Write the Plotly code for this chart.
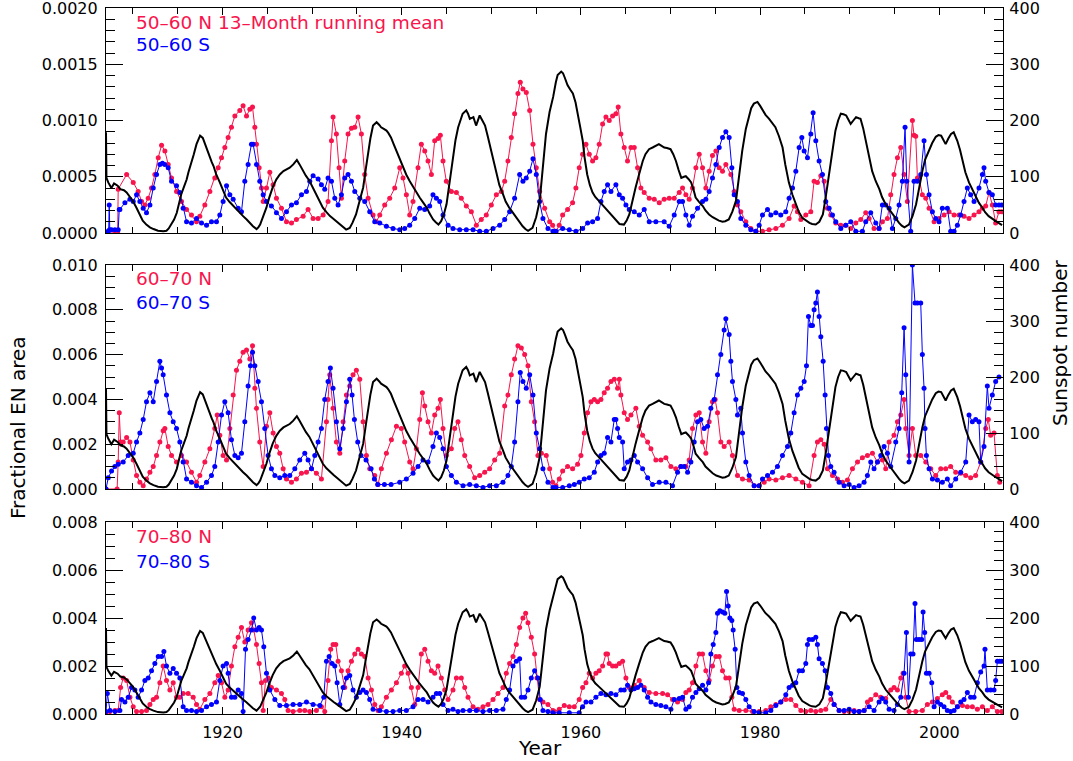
import plotly.graph_objects as go

# ---------------------------------------------------------------------------
# Data
# ---------------------------------------------------------------------------
# 13-month running mean sunspot number (same curve in every panel)
SSN = [(1907.0,179),(1907.05,98),(1907.25,90),(1907.45,84),(1907.6,80),(1907.9,88),(1908.3,84),(1908.6,78),
       (1909.0,76),(1909.3,72),(1909.7,64),(1910.0,57),(1910.4,45),(1910.8,30),(1911.1,22),(1911.5,15),
       (1911.9,10),(1912.3,7),(1912.8,4),(1913.4,3),(1913.75,4),(1914.0,8),(1914.3,15),(1914.6,24),
       (1914.9,36),(1915.1,50),(1915.4,69),(1915.7,82),(1916.0,95),(1916.2,108),(1916.5,122),(1916.8,140),
       (1917.1,158),(1917.3,166),(1917.5,173),(1917.8,169),(1918.0,160),(1918.2,152),(1918.4,142),(1918.6,134),
       (1918.8,126),(1919.0,119),(1919.3,104),(1919.7,90),(1920.0,78),(1920.4,63),(1920.8,55),(1921.2,48),
       (1921.5,42),(1921.9,36),(1922.3,30),(1922.7,24),(1923.0,18),(1923.4,12),(1923.8,7),(1924.0,10),
       (1924.2,15),(1924.5,28),(1924.9,45),(1925.2,62),(1925.6,81),(1926.0,95),(1926.4,104),(1926.8,110),
       (1927.1,113),(1927.5,116),(1927.9,122),(1928.1,126),(1928.3,130),(1928.6,122),(1929.0,110),(1929.3,102),
       (1929.7,93),(1930.1,80),(1930.5,66),(1930.9,54),(1931.2,45),(1931.6,37),(1932.0,30),(1932.4,25),
       (1932.7,21),(1933.1,15),(1933.5,9),(1933.8,6),(1934.2,9),(1934.5,18),(1934.9,33),(1935.3,55),
       (1935.7,81),(1936.0,115),(1936.2,140),(1936.5,168),(1936.8,191),(1937.2,197),(1937.5,192),(1937.7,188),
       (1938.0,185),(1938.3,182),(1938.5,178),(1938.8,170),(1939.1,158),(1939.4,146),(1939.7,134),(1940.0,122),
       (1940.5,104),(1940.9,92),(1941.3,81),(1941.6,72),(1942.0,63),(1942.4,54),(1942.8,45),(1943.1,35),
       (1943.5,24),(1943.8,19),(1944.1,15),(1944.4,21),(1944.7,33),(1945.0,51),(1945.3,85),(1945.7,134),
       (1946.0,165),(1946.3,188),(1946.6,203),(1946.8,212),(1947.2,218),(1947.4,212),(1947.6,203),(1948.0,206),
       (1948.3,191),(1948.5,200),(1948.7,209),(1949.0,200),(1949.3,191),(1949.6,172),(1949.8,158),(1950.2,130),
       (1950.6,104),(1950.9,85),(1951.3,69),(1951.6,56),(1952.0,45),(1952.4,36),(1952.8,27),(1953.1,19),
       (1953.5,12),(1953.8,7),(1954.1,4),(1954.6,9),(1955.0,28),(1955.4,57),(1955.7,110),(1956.1,176),
       (1956.5,215),(1956.9,242),(1957.2,268),(1957.4,281),(1957.8,287),(1958.0,284),(1958.2,276),(1958.5,263),
       (1958.8,255),(1959.1,248),(1959.4,232),(1959.6,212),(1959.9,190),(1960.2,164),(1960.4,135),(1960.7,104),
       (1961.0,85),(1961.3,72),(1961.6,64),(1962.0,57),(1962.4,50),(1962.8,42),(1963.1,36),(1963.5,30),
       (1963.9,22),(1964.3,16),(1964.8,15),(1965.1,22),(1965.4,33),(1965.7,55),(1966.1,81),(1966.5,105),
       (1966.9,128),(1967.2,140),(1967.6,149),(1968.0,152),(1968.4,155),(1968.7,158),(1969.0,155),(1969.3,152),
       (1969.6,151),(1970.0,149),(1970.3,140),(1970.6,128),(1970.9,112),(1971.2,98),(1971.5,100),(1971.7,101),
       (1972.0,96),(1972.3,90),(1972.6,75),(1972.8,63),(1973.2,55),(1973.6,48),(1973.9,40),(1974.3,33),
       (1974.7,28),(1975.1,24),(1975.4,22),(1975.8,20),(1976.1,21),(1976.5,24),(1976.9,38),(1977.3,57),
       (1977.6,95),(1978.0,146),(1978.4,185),(1978.8,212),(1979.0,222),(1979.3,230),(1979.7,233),(1980.0,226),
       (1980.3,218),(1980.6,210),(1981.0,203),(1981.3,196),(1981.7,188),(1982.1,172),(1982.5,152),(1982.8,122),
       (1983.2,90),(1983.6,68),(1984.0,51),(1984.3,38),(1984.7,27),(1985.1,22),(1985.5,18),(1985.8,16),
       (1986.2,15),(1986.6,20),(1987.0,33),(1987.3,62),(1987.7,104),(1988.0,142),(1988.4,182),(1988.7,200),
       (1989.0,212),(1989.3,211),(1989.6,209),(1989.9,200),(1990.1,194),(1990.4,200),(1990.7,206),(1991.0,204),
       (1991.2,203),(1991.5,186),(1991.8,164),(1992.1,140),(1992.5,110),(1992.9,92),(1993.3,78),(1993.6,64),
       (1994.0,51),(1994.4,42),(1994.8,33),(1995.1,25),(1995.5,18),(1995.8,13),(1996.1,10),(1996.6,15),
       (1997.0,30),(1997.4,51),(1997.7,78),(1998.1,110),(1998.4,130),(1998.8,146),(1999.2,160),(1999.6,171),
       (1999.9,174),(2000.2,173),(2000.5,165),(2000.7,158),(2001.0,168),(2001.3,176),(2001.6,179),(2001.8,172),
       (2002.0,164),(2002.3,148),(2002.6,128),(2002.9,108),(2003.3,90),(2003.7,76),(2004.1,63),(2004.4,54),
       (2004.8,45),(2005.1,37),(2005.5,30),(2005.9,25),(2006.3,21),(2006.6,18),(2007.0,14)]

# 50-60 deg fractional EN area, units of 1e-4
N5060 = [(1907.0,0),(1908.0,0),(1908.3,0),(1908.36,3.9),(1909.3,5.2),(1910.04,4.5),(1910.59,3.7),(1910.97,2.8),
         (1911.34,2.5),(1911.71,3.1),(1912.08,4.0),(1912.45,5.2),(1912.83,6.7),(1913.2,7.8),(1913.57,7.3),
         (1913.94,6.1),(1914.31,4.9),(1914.87,3.7),(1915.43,2.8),(1915.99,2.1),(1916.54,1.6),(1917.1,1.0),
         (1917.47,1.5),(1918.03,2.5),(1918.59,3.7),(1919.14,4.9),(1919.52,5.8),(1919.89,6.7),(1920.26,7.6),
         (1920.63,8.5),(1921.0,9.4),(1921.38,10.4),(1921.93,10.9),(1922.3,11.3),(1922.68,10.4),(1923.05,11.0),
         (1923.35,11.2),(1923.61,9.4),(1923.79,7.9),(1924.09,5.8),(1924.35,4.0),(1924.54,2.8),(1924.91,4.0),
         (1925.28,5.4),(1925.65,4.3),(1926.02,3.1),(1926.58,2.2),(1927.14,1.0),(1927.7,0.9),(1928.25,1.2),
         (1929.0,1.5),(1929.55,2.1),(1930.11,1.3),(1930.67,1.3),(1931.23,1.6),(1931.78,2.8),(1932.16,8.2),
         (1932.34,10.3),(1932.71,8.8),(1933.01,5.8),(1933.27,3.1),(1933.64,6.4),(1934.01,8.8),(1934.39,9.3),
         (1934.76,9.4),(1935.13,10.3),(1935.5,8.8),(1935.87,5.2),(1936.25,3.1),(1936.8,1.6),(1937.17,1.0),
         (1937.55,1.6),(1938.1,2.5),(1938.66,3.1),(1939.22,4.0),(1939.78,5.8),(1940.15,4.9),(1940.52,3.4),
         (1940.89,1.6),(1941.26,2.8),(1941.82,5.8),(1942.19,7.9),(1942.57,7.3),(1942.94,6.4),(1943.31,5.2),
         (1943.68,8.2),(1944.05,8.4),(1944.31,8.7),(1944.61,6.4),(1944.98,4.6),(1945.54,3.7),(1946.1,3.6),
         (1946.65,3.1),(1947.21,2.4),(1947.77,1.9),(1948.33,0.7),(1948.88,1.2),(1949.44,1.6),(1950.0,2.5),
         (1950.56,3.4),(1951.12,3.7),(1951.49,4.6),(1951.86,6.4),(1952.23,8.5),(1952.6,10.6),(1952.97,12.4),
         (1953.23,13.4),(1953.53,12.8),(1953.9,12.5),(1954.28,10.9),(1954.65,7.9),(1955.02,5.8),(1955.39,3.7),
         (1955.95,2.2),(1956.51,1.0),(1956.84,0.7),(1957.21,0.1),(1957.58,0.7),(1957.96,1.6),(1958.51,2.1),
         (1959.07,2.7),(1959.44,4.0),(1959.81,5.8),(1960.19,7.0),(1960.56,7.9),(1960.93,7.0),(1961.3,6.4),
         (1961.67,6.7),(1962.04,7.9),(1962.42,9.7),(1962.79,10.3),(1963.16,10.0),(1963.53,10.4),(1963.9,10.6),
         (1964.16,11.2),(1964.46,8.8),(1964.83,7.6),(1965.2,6.4),(1965.58,7.6),(1965.95,7.6),(1966.32,5.8),
         (1966.69,4.0),(1967.06,3.6),(1967.62,3.1),(1968.18,3.0),(1968.74,2.7),(1969.29,3.0),(1969.85,3.1),
         (1970.41,3.1),(1970.97,3.6),(1971.34,4.0),(1971.71,3.4),(1972.08,3.0),(1972.45,4.0),(1972.83,5.8),
         (1973.2,7.0),(1973.57,5.8),(1973.94,4.0),(1974.31,5.5),(1974.68,6.9),(1975.06,7.3),(1975.43,5.8),
         (1975.8,5.5),(1976.17,6.1),(1976.73,5.2),(1977.1,3.7),(1977.47,2.5),(1977.84,1.9),(1978.4,1.0),
         (1978.96,0.4),(1979.52,0.15),(1980.26,0.15),(1981.0,0.3),(1981.75,0.4),(1982.49,0.7),(1983.23,1.3),
         (1983.79,2.4),(1984.16,1.9),(1984.54,1.2),(1985.09,1.6),(1985.65,1.9),(1986.02,4.6),(1986.39,4.5),
         (1986.77,5.1),(1987.14,4.6),(1987.51,2.2),(1987.88,1.6),(1988.44,0.9),(1989.0,0.7),(1989.55,0.7),
         (1990.11,0.4),(1990.67,0.9),(1991.23,1.2),(1991.78,1.8),(1992.16,1.3),(1992.71,0.4),(1993.27,0.4),
         (1993.64,1.0),(1994.2,1.3),(1994.57,3.4),(1994.94,5.2),(1995.32,6.7),(1995.69,7.6),(1996.06,5.2),
         (1996.43,2.8),(1996.99,10.0),(1997.17,8.7),(1997.36,8.6),(1997.55,4.9),(1997.73,4.9),(1998.1,3.4),
         (1998.48,3.1),(1998.85,2.2),(1999.41,1.0),(1999.96,1.3),(2000.52,1.6),(2001.08,1.9),(2001.64,1.6),
         (2002.19,1.6),(2002.75,1.5),(2003.31,1.3),(2003.87,1.6),(2004.42,1.9),(2004.8,2.2),(2005.17,2.4),
         (2005.54,3.6),(2005.91,2.5),(2006.28,0.9),(2006.65,1.9),(2006.95,1.9)]

S5060 = [(1907.0,0.1),(1907.3,0.2),(1907.36,2.5),(1907.42,0.3),(1907.62,0.3),(1908.0,0.3),(1908.36,0.3),
         (1908.48,2.1),(1908.55,2.1),(1909.11,2.7),(1909.67,3.0),(1910.04,2.8),(1910.41,3.4),(1910.78,2.8),
         (1911.15,2.2),(1911.52,1.8),(1911.9,2.5),(1912.27,4.0),(1912.64,5.2),(1913.01,6.1),(1913.3,6.2),
         (1913.57,6.1),(1913.94,5.8),(1914.31,4.6),(1914.87,4.2),(1915.24,3.6),(1915.61,2.2),(1915.99,1.0),
         (1916.54,0.9),(1917.1,1.3),(1917.66,0.9),(1918.22,0.7),(1918.77,1.0),(1919.33,1.0),(1919.7,1.6),
         (1920.07,2.8),(1920.45,4.2),(1920.82,3.4),(1921.19,3.0),(1921.75,2.2),(1922.12,1.9),(1922.49,4.6),
         (1922.86,6.1),(1923.23,7.9),(1923.42,7.9),(1923.79,6.1),(1924.16,4.6),(1924.54,3.4),(1924.91,2.8),
         (1925.46,2.4),(1926.02,1.8),(1926.58,1.3),(1927.14,1.9),(1927.7,2.5),(1928.25,2.7),(1928.81,3.4),
         (1929.37,3.7),(1929.74,4.6),(1930.11,5.1),(1930.67,4.8),(1931.04,4.3),(1931.41,3.9),(1931.78,4.9),
         (1932.16,4.6),(1932.53,3.1),(1932.9,2.5),(1933.27,3.4),(1933.64,4.9),(1934.01,5.2),(1934.39,4.6),
         (1934.76,3.7),(1935.32,3.1),(1935.87,2.8),(1936.43,1.9),(1936.99,1.0),(1937.55,0.9),(1938.29,0.6),
         (1939.03,0.4),(1939.78,0.3),(1940.33,0.4),(1940.89,0.7),(1941.45,1.3),(1942.01,2.2),(1942.57,2.1),
         (1943.12,2.4),(1943.49,3.4),(1943.87,3.1),(1944.24,2.8),(1944.61,1.6),(1945.17,0.7),(1945.72,0.4),
         (1946.47,0.3),(1947.21,0.3),(1947.96,0.3),(1948.7,0.15),(1949.44,0.15),(1950.19,0.4),(1950.93,0.7),
         (1951.49,1.2),(1952.04,1.9),(1952.6,3.1),(1953.16,5.2),(1953.53,4.6),(1953.9,4.9),(1954.28,5.5),
         (1954.65,6.6),(1955.02,5.2),(1955.39,2.8),(1955.76,1.3),(1956.32,0.4),(1956.88,0.15),(1957.21,0.15),
         (1957.96,0.4),(1958.7,0.3),(1959.44,0.15),(1960.19,0.4),(1960.74,0.9),(1961.3,1.0),(1961.86,1.3),
         (1962.23,2.8),(1962.6,3.7),(1962.97,4.3),(1963.35,3.7),(1963.9,4.3),(1964.28,3.4),(1964.65,3.1),
         (1965.02,2.5),(1965.39,2.1),(1965.95,1.9),(1966.51,1.6),(1967.06,2.1),(1967.62,1.0),(1968.36,1.0),
         (1969.29,1.0),(1969.85,0.6),(1970.41,1.6),(1970.97,2.8),(1971.34,2.8),(1971.71,1.6),(1972.08,0.7),
         (1972.45,1.5),(1973.01,2.2),(1973.57,2.8),(1973.94,3.0),(1974.31,3.7),(1974.68,4.9),(1975.06,6.1),
         (1975.43,7.6),(1975.8,8.5),(1976.17,9.0),(1976.54,8.5),(1976.84,5.8),(1977.1,3.4),(1977.47,2.8),
         (1977.84,1.3),(1978.4,0.7),(1978.96,0.3),(1979.52,0.15),(1979.89,0.7),(1980.26,1.6),(1980.82,2.1),
         (1981.19,1.6),(1981.75,1.8),(1982.3,1.6),(1982.86,1.9),(1983.23,3.1),(1983.61,4.0),(1983.98,5.5),
         (1984.35,7.6),(1984.65,8.5),(1984.91,7.3),(1985.28,6.7),(1985.65,8.8),(1985.91,10.7),(1986.21,8.2),
         (1986.58,6.4),(1986.95,5.2),(1987.32,2.8),(1987.7,2.2),(1988.07,1.6),(1988.44,1.0),(1989.0,0.4),
         (1989.55,0.7),(1990.11,1.0),(1990.67,0.15),(1991.41,0.15),(1991.78,1.0),(1992.34,1.8),(1992.9,0.9),
         (1993.27,0.4),(1993.64,2.5),(1994.01,2.5),(1994.39,2.2),(1994.76,0.4),(1995.13,1.3),(1995.5,2.5),
         (1995.87,4.6),(1996.17,9.4),(1996.36,4.6),(1996.8,0.15),(1997.17,4.6),(1997.55,4.6),(1997.92,5.2),
         (1998.29,8.2),(1998.55,5.2),(1998.85,3.4),(1999.22,1.9),(1999.59,1.3),(1999.96,1.0),(2000.33,2.2),
         (2000.89,2.2),(2001.26,0.15),(2001.64,0.15),(2002.01,0.7),(2002.38,1.6),(2002.75,2.8),(2003.12,4.0),
         (2003.49,3.4),(2003.87,2.8),(2004.42,4.0),(2004.8,5.2),(2004.98,5.8),(2005.17,4.6),(2005.54,3.6),
         (2005.91,3.4),(2006.28,2.5),(2006.65,2.5),(2006.95,2.5)]

# 60-70 deg fractional EN area, units of 1e-3
N6070 = [(1907.0,0),(1908.24,0),(1908.36,1.2),(1908.48,3.4),(1908.63,2.1),(1908.92,2.1),(1909.3,2.3),(1909.67,2.1),
         (1910.04,1.3),(1910.41,0.6),(1910.78,0.3),(1911.15,0.15),(1911.52,0.45),(1911.9,0.75),(1912.27,1.0),
         (1912.64,1.5),(1913.01,2.1),(1913.38,2.6),(1913.57,2.7),(1913.94,1.9),(1914.31,1.5),(1914.87,1.2),
         (1915.43,1.5),(1915.99,1.2),(1916.54,0.75),(1917.1,0.3),(1917.47,0.6),(1918.03,1.2),(1918.59,1.8),
         (1919.14,2.7),(1919.41,3.3),(1919.7,2.4),(1920.07,1.5),(1920.45,1.3),(1920.82,2.7),(1921.19,4.2),
         (1921.56,5.3),(1921.93,5.7),(1922.3,6.1),(1922.68,6.2),(1923.05,5.8),(1923.35,6.4),(1923.61,4.5),
         (1923.79,3.6),(1924.16,2.1),(1924.54,1.0),(1924.91,2.8),(1925.28,3.4),(1925.65,2.5),(1926.02,1.9),
         (1926.39,1.6),(1926.77,0.9),(1927.14,0.45),(1927.7,0.3),(1928.25,0.45),(1928.81,0.7),(1929.37,0.75),
         (1929.93,0.9),(1930.48,0.7),(1931.04,0.45),(1931.6,3.0),(1931.78,4.0),(1931.97,5.1),(1932.34,3.6),
         (1932.71,2.1),(1933.09,1.6),(1933.46,3.0),(1933.83,4.2),(1934.2,4.6),(1934.57,5.1),(1934.94,5.3),
         (1935.32,4.9),(1935.69,3.0),(1936.06,1.5),(1936.43,0.9),(1936.99,0.6),(1937.36,0.2),(1937.73,0.9),
         (1938.29,1.6),(1938.85,2.2),(1939.41,2.8),(1939.96,2.7),(1940.33,2.1),(1940.89,1.2),(1941.26,0.9),
         (1941.64,1.8),(1942.01,3.1),(1942.31,4.3),(1942.57,3.7),(1942.94,3.0),(1943.31,2.5),(1943.68,3.3),
         (1944.05,3.6),(1944.31,4.0),(1944.61,2.7),(1944.98,1.5),(1945.54,1.8),(1945.91,2.7),(1946.28,3.0),
         (1946.65,2.2),(1947.03,1.5),(1947.58,1.0),(1948.14,0.5),(1948.7,0.6),(1949.26,0.75),(1949.81,0.9),
         (1950.37,1.3),(1950.93,1.6),(1951.49,3.7),(1951.86,4.2),(1952.23,5.1),(1952.6,5.8),(1952.97,6.4),
         (1953.35,6.3),(1953.72,6.0),(1954.09,5.5),(1954.46,3.9),(1954.83,3.0),(1955.2,1.5),(1955.58,1.6),
         (1956.13,1.5),(1956.51,0.9),(1956.84,0.3),(1957.21,0.15),(1957.58,0.45),(1957.96,0.8),(1958.51,1.0),
         (1959.07,0.9),(1959.63,1.1),(1960.0,1.5),(1960.37,2.5),(1960.74,3.4),(1961.12,3.9),(1961.49,4.0),
         (1961.86,3.9),(1962.23,4.0),(1962.6,4.3),(1962.97,4.5),(1963.35,4.8),(1963.72,4.9),(1964.09,4.5),
         (1964.28,4.9),(1964.46,4.2),(1964.83,3.4),(1965.2,3.1),(1965.58,3.3),(1966.13,3.6),(1966.51,2.8),
         (1966.88,2.4),(1967.44,2.1),(1967.81,1.8),(1968.36,1.3),(1968.92,1.3),(1969.48,1.4),(1970.04,1.0),
         (1970.59,0.9),(1971.15,1.0),(1971.71,1.0),(1972.08,1.3),(1972.45,2.7),(1972.83,3.3),(1973.2,3.4),
         (1973.57,2.1),(1973.94,1.6),(1974.31,3.0),(1974.68,3.9),(1974.98,4.0),(1975.24,3.4),(1975.61,2.1),
         (1975.98,1.9),(1976.54,2.1),(1976.91,1.5),(1977.47,0.6),(1978.03,0.45),(1978.77,0.4),(1979.33,0.15),
         (1979.89,0.15),(1980.45,0.3),(1981.0,0.45),(1981.75,0.4),(1982.49,0.5),(1983.23,0.6),(1983.98,0.45),
         (1984.72,0.3),(1985.46,0.15),(1986.02,1.5),(1986.39,2.1),(1986.77,2.2),(1987.14,2.0),(1987.51,0.9),
         (1988.07,0.6),(1988.63,0.45),(1989.18,0.3),(1989.74,0.4),(1990.3,0.9),(1990.86,1.2),(1991.41,1.4),
         (1991.97,1.5),(1992.53,1.6),(1993.09,1.2),(1993.64,1.3),(1994.01,0.9),(1994.39,2.1),(1994.94,2.4),
         (1995.32,3.0),(1995.69,3.3),(1996.06,4.0),(1996.25,2.7),(1996.62,1.5),(1996.99,2.7),(1997.36,1.5),
         (1997.92,1.5),(1998.48,1.2),(1999.04,0.9),(1999.59,0.6),(2000.15,0.9),(2000.71,0.9),(2001.26,1.0),
         (2001.82,0.75),(2002.38,0.7),(2002.94,0.6),(2003.49,0.5),(2004.05,0.6),(2004.61,1.2),(2005.17,2.7),
         (2005.46,3.1),(2005.72,2.4),(2006.1,2.5),(2006.47,0.6),(2006.73,0.3)]

S6070 = [(1907.0,0),(1907.25,0.5),(1907.62,0.8),(1907.99,1.0),(1908.36,1.1),(1908.92,1.2),(1909.48,1.5),
         (1910.04,1.6),(1910.41,2.1),(1910.78,2.5),(1911.15,3.1),(1911.52,3.9),(1911.9,4.3),(1912.27,3.9),
         (1912.64,4.8),(1913.01,5.7),(1913.2,5.4),(1913.38,5.1),(1913.75,4.2),(1914.13,3.4),(1914.5,3.0),
         (1914.87,2.7),(1915.24,2.1),(1915.61,1.2),(1915.99,0.45),(1916.54,0.3),(1917.1,0.15),(1917.66,0.07),
         (1918.22,0.3),(1918.77,0.6),(1919.14,1.0),(1919.52,2.1),(1919.89,3.3),(1920.26,3.9),(1920.63,3.4),
         (1921.0,2.2),(1921.38,1.5),(1921.75,1.4),(1922.12,1.6),(1922.49,3.0),(1922.86,4.6),(1923.12,5.5),
         (1923.35,6.1),(1923.61,5.5),(1923.98,4.8),(1924.35,3.9),(1924.72,2.7),(1925.09,1.5),(1925.46,0.9),
         (1925.84,0.6),(1926.39,0.5),(1926.95,0.6),(1927.51,0.6),(1928.07,0.9),(1928.62,1.3),(1929.18,1.6),
         (1929.55,1.3),(1929.93,0.9),(1930.3,1.5),(1930.67,2.1),(1931.04,2.7),(1931.41,4.0),(1931.78,4.8),
         (1932.04,5.4),(1932.34,4.5),(1932.71,3.0),(1933.09,1.8),(1933.46,2.7),(1933.83,3.9),(1934.2,4.9),
         (1934.46,4.2),(1934.72,3.1),(1935.09,2.1),(1935.46,1.5),(1936.02,1.3),(1936.58,0.9),(1936.95,0.45),
         (1937.32,0.2),(1938.07,0.2),(1938.81,0.2),(1939.78,0.3),(1940.52,0.45),(1941.26,0.7),(1941.82,1.0),
         (1942.38,1.3),(1942.94,1.2),(1943.49,1.9),(1943.87,2.5),(1944.24,2.3),(1944.61,1.8),(1944.98,1.0),
         (1945.54,0.6),(1946.1,0.3),(1946.84,0.15),(1947.58,0.2),(1948.33,0.15),(1949.07,0.07),(1949.81,0.15),
         (1950.56,0.15),(1951.3,0.3),(1951.86,0.6),(1952.23,1.0),(1952.6,2.1),(1952.97,3.9),(1953.23,5.2),
         (1953.53,4.8),(1953.9,4.5),(1954.28,5.1),(1954.65,4.2),(1955.02,2.5),(1955.39,1.8),(1955.76,0.9),
         (1956.32,0.3),(1956.88,0.07),(1957.21,0.07),(1957.96,0.07),(1958.7,0.15),(1959.26,0.2),(1959.81,0.3),
         (1960.37,0.45),(1960.93,0.5),(1961.49,0.75),(1961.86,1.2),(1962.23,1.5),(1962.6,1.6),(1962.97,2.3),
         (1963.35,2.1),(1963.72,3.1),(1963.9,3.1),(1964.09,2.7),(1964.28,2.3),(1964.65,2.1),(1964.83,0.9),
         (1965.2,1.2),(1965.58,1.3),(1965.95,1.5),(1966.32,1.2),(1966.88,0.9),(1967.44,0.5),(1967.99,0.2),
         (1968.74,0.3),(1969.48,0.3),(1970.22,0.15),(1970.78,0.75),(1971.15,1.0),(1971.52,1.0),(1971.9,0.75),
         (1972.27,1.2),(1972.64,2.1),(1973.01,3.0),(1973.38,3.1),(1973.75,2.7),(1974.13,2.8),(1974.5,3.6),
         (1974.87,4.0),(1975.24,5.1),(1975.61,6.0),(1975.98,7.1),(1976.17,7.6),(1976.54,6.9),(1976.73,5.7),
         (1976.91,4.8),(1977.29,4.0),(1977.47,3.3),(1977.84,3.6),(1978.03,2.5),(1978.4,1.2),(1978.77,0.6),
         (1979.33,0.15),(1979.89,0.15),(1980.26,0.45),(1980.82,0.6),(1981.38,0.75),(1981.93,1.0),(1982.49,1.5),
         (1983.05,1.9),(1983.42,2.5),(1983.79,3.4),(1984.16,4.2),(1984.54,4.5),(1984.91,4.8),(1985.17,5.5),
         (1985.39,7.7),(1985.65,7.3),(1985.84,7.3),(1986.02,8.0),(1986.21,8.3),(1986.39,8.8),(1986.58,7.7),
         (1986.77,6.8),(1987.03,5.7),(1987.25,4.2),(1987.4,2.7),(1987.62,1.5),(1987.88,1.0),(1988.25,0.75),
         (1988.81,0.3),(1989.37,0.15),(1989.93,0.2),(1990.48,0.07),(1991.04,0.15),(1991.6,0.3),(1991.97,0.6),
         (1992.34,1.2),(1992.71,0.9),(1993.09,1.2),(1993.46,1.5),(1993.83,1.9),(1994.2,1.6),(1994.57,1.0),
         (1995.13,2.1),(1995.5,2.7),(1995.8,4.3),(1996.06,7.2),(1996.25,5.1),(1996.62,1.2),(1996.99,10.0),
         (1997.28,8.3),(1997.55,8.3),(1997.92,8.3),(1998.1,6.0),(1998.29,4.5),(1998.4,2.7),(1998.55,1.5),
         (1998.85,0.9),(1999.22,0.45),(1999.78,0.4),(2000.33,0.3),(2000.89,0.45),(2001.26,0.15),(2001.82,0.45),
         (2002.38,0.75),(2002.94,1.2),(2003.31,3.3),(2003.68,3.0),(2004.05,3.1),(2004.42,3.0),(2004.61,1.2),
         (2004.98,1.9),(2005.35,4.6),(2005.54,3.6),(2005.91,4.2),(2006.28,4.8),(2006.65,5.0)]

# 70-80 deg fractional EN area, units of 1e-3
N7080 = [(1907.0,0),(1907.45,0.1),(1908.0,0.15),(1908.36,0.15),(1908.63,1.1),(1908.92,1.5),(1909.3,1.4),
         (1909.67,0.7),(1910.04,0.3),(1910.41,0.1),(1910.97,0.1),(1911.52,0.15),(1911.9,0.4),(1912.27,0.6),
         (1912.64,0.7),(1913.01,1.3),(1913.38,2.0),(1913.75,1.4),(1914.13,1.0),(1914.5,1.3),(1914.87,0.7),
         (1915.24,0.7),(1915.61,0.85),(1916.17,0.85),(1916.73,0.7),(1917.1,0.4),(1917.47,0.2),(1918.03,0.6),
         (1918.59,0.85),(1919.14,1.3),(1919.52,1.6),(1919.89,1.3),(1920.26,0.7),(1920.63,1.0),(1921.0,2.0),
         (1921.38,2.8),(1921.75,3.2),(1922.12,3.6),(1922.49,3.0),(1922.86,3.5),(1923.23,3.8),(1923.49,3.5),
         (1923.79,2.9),(1924.09,2.1),(1924.35,1.3),(1924.54,0.15),(1924.8,1.4),(1925.09,1.5),(1925.46,1.1),
         (1926.02,1.0),(1926.58,0.85),(1926.95,0.6),(1927.32,0.15),(1927.88,0.1),(1928.62,0.15),(1929.18,0.15),
         (1929.74,0.1),(1930.48,0.15),(1931.04,0.3),(1931.41,0.1),(1931.78,1.4),(1932.08,2.7),(1932.34,2.9),
         (1932.64,2.9),(1932.9,2.2),(1933.27,1.8),(1933.64,1.1),(1934.01,1.8),(1934.39,2.2),(1934.76,2.5),
         (1935.13,2.7),(1935.5,2.5),(1935.87,2.4),(1936.25,1.5),(1936.62,1.0),(1936.99,0.4),(1937.36,0.15),
         (1937.73,0.3),(1938.29,0.7),(1938.85,1.0),(1939.41,1.3),(1939.96,1.7),(1940.33,2.0),(1940.71,1.7),
         (1941.08,1.1),(1941.45,0.4),(1941.82,1.1),(1942.19,2.5),(1942.57,2.7),(1942.94,2.2),(1943.31,1.8),
         (1943.68,1.7),(1944.05,2.0),(1944.42,1.5),(1944.8,1.0),(1945.17,0.6),(1945.72,1.0),(1946.1,1.5),
         (1946.65,1.5),(1947.03,1.1),(1947.4,0.7),(1947.96,0.3),(1948.51,0.2),(1949.07,0.3),(1949.63,0.4),
         (1950.19,0.6),(1950.74,0.85),(1951.3,1.1),(1951.67,1.7),(1952.04,2.1),(1952.42,2.4),(1952.79,2.9),
         (1953.16,3.6),(1953.53,4.0),(1953.83,4.2),(1954.09,3.8),(1954.46,3.2),(1954.83,2.5),(1955.09,1.5),
         (1955.39,0.6),(1955.76,0.5),(1956.32,0.4),(1956.88,0.15),(1957.03,0.1),(1957.58,0.2),(1958.14,0.35),
         (1958.7,0.3),(1959.26,0.3),(1959.81,0.6),(1960.19,1.1),(1960.56,1.3),(1960.93,1.7),(1961.3,1.5),
         (1961.67,1.7),(1962.04,1.8),(1962.42,2.0),(1962.79,2.5),(1962.97,2.5),(1963.16,2.1),(1963.53,2.0),
         (1963.9,2.0),(1964.28,2.1),(1964.65,2.2),(1965.02,1.5),(1965.39,1.1),(1965.95,1.2),(1966.51,1.4),
         (1967.06,1.1),(1967.62,0.9),(1968.36,0.85),(1969.11,0.85),(1969.67,0.8),(1970.22,0.6),(1970.78,0.5),
         (1971.34,0.6),(1971.71,0.9),(1972.08,1.0),(1972.45,1.3),(1972.83,2.0),(1973.2,2.5),(1973.57,2.5),
         (1973.94,1.8),(1974.31,1.4),(1974.68,2.0),(1975.06,2.4),(1975.43,2.4),(1975.8,1.8),(1976.17,1.5),
         (1976.54,1.5),(1976.84,0.7),(1977.1,0.2),(1977.66,0.15),(1978.4,0.15),(1979.14,0.1),(1979.89,0.1),
         (1980.63,0.15),(1981.19,0.3),(1981.75,0.4),(1982.3,0.5),(1982.86,0.6),(1983.42,0.6),(1983.98,0.35),
         (1984.54,0.15),(1985.09,0.1),(1985.65,0.15),(1986.21,0.1),(1986.77,0.15),(1987.32,0.2),(1987.88,0.6),
         (1988.25,0.4),(1988.81,0.15),(1989.37,0.1),(1989.93,0.1),(1990.48,0.15),(1991.04,0.1),(1991.6,0.15),
         (1991.97,0.5),(1992.34,0.6),(1992.9,0.8),(1993.46,0.7),(1994.01,0.65),(1994.57,1.0),(1994.94,1.1),
         (1995.32,1.0),(1995.69,1.5),(1995.95,1.7),(1996.25,0.7),(1996.62,0.1),(1997.36,0.1),(1998.1,0.15),
         (1998.66,0.4),(1999.22,0.5),(1999.78,0.65),(2000.33,0.8),(2000.71,0.9),(2001.08,0.7),(2001.45,0.5),
         (2002.01,0.3),(2002.57,0.35),(2003.12,0.3),(2003.68,0.3),(2004.24,0.2),(2004.8,0.3),(2005.35,0.15),
         (2005.91,0.3),(2006.47,0.1),(2006.95,0.1)]

S7080 = [(1907.0,0.1),(1907.15,0.85),(1907.45,0.15),(1908.0,0.1),(1908.55,0.15),(1908.73,0.6),(1909.11,0.5),
         (1909.48,0.7),(1909.85,1.1),(1910.22,1.0),(1910.59,0.7),(1910.97,1.0),(1911.34,1.4),(1911.71,1.5),
         (1912.08,1.8),(1912.45,2.1),(1912.83,2.4),(1913.2,2.4),(1913.46,2.6),(1913.75,2.0),(1914.13,1.7),
         (1914.5,1.9),(1914.87,1.7),(1915.24,1.5),(1915.61,0.3),(1915.99,0.15),(1916.54,0.15),(1917.1,0.1),
         (1917.66,0.15),(1918.22,0.3),(1918.77,0.4),(1919.33,0.5),(1919.7,1.4),(1920.07,2.0),(1920.45,2.1),
         (1920.63,1.7),(1921.0,0.7),(1921.38,0.7),(1921.75,1.0),(1922.12,0.85),(1922.3,0.1),(1922.57,2.7),
         (1922.86,3.1),(1923.23,3.5),(1923.49,4.0),(1923.79,3.5),(1924.09,3.6),(1924.35,3.5),(1924.61,2.8),
         (1924.91,1.7),(1925.28,1.0),(1925.84,0.6),(1926.39,0.35),(1927.14,0.35),(1927.88,0.4),(1928.62,0.4),
         (1929.37,0.5),(1930.11,0.4),(1930.86,0.35),(1931.3,0.7),(1931.6,2.2),(1931.9,2.4),(1932.23,2.1),
         (1932.53,2.0),(1932.79,1.3),(1933.09,0.4),(1933.46,1.1),(1933.83,1.5),(1934.2,1.6),(1934.57,1.0),
         (1934.94,0.7),(1935.32,0.9),(1935.69,1.0),(1936.06,0.9),(1936.43,0.6),(1936.8,0.2),(1937.55,0.15),
         (1938.29,0.1),(1939.03,0.1),(1939.78,0.15),(1940.52,0.15),(1941.26,0.3),(1941.82,0.6),(1942.38,0.6),
         (1942.94,0.5),(1943.49,0.7),(1943.87,0.85),(1944.24,0.85),(1944.61,0.4),(1945.17,0.15),(1945.72,0.2),
         (1946.28,0.1),(1946.84,0.15),(1947.58,0.15),(1948.33,0.15),(1949.07,0.1),(1949.81,0.15),(1950.56,0.15),
         (1951.3,0.2),(1951.67,0.6),(1952.04,1.0),(1952.42,2.0),(1952.79,2.2),(1953.16,2.3),(1953.35,0.7),
         (1953.72,0.7),(1954.09,1.0),(1954.46,1.5),(1954.83,1.8),(1955.2,1.5),(1955.46,0.6),(1955.76,0.15),
         (1956.32,0.1),(1956.88,0.05),(1957.58,0.05),(1958.7,0.05),(1959.81,0.05),(1960.19,0.3),(1960.56,0.5),
         (1961.12,0.5),(1961.67,0.7),(1962.23,0.85),(1962.79,0.8),(1963.35,0.85),(1963.9,0.8),(1964.46,1.0),
         (1964.83,1.0),(1965.2,1.2),(1965.58,1.0),(1965.95,1.05),(1966.32,1.1),(1966.69,1.2),(1967.06,1.0),
         (1967.44,0.7),(1967.81,0.5),(1968.36,0.4),(1968.92,0.35),(1969.48,0.3),(1970.04,0.2),(1970.41,0.6),
         (1970.97,0.65),(1971.34,0.7),(1971.71,0.2),(1972.08,0.3),(1972.45,0.7),(1972.83,0.9),(1973.2,1.05),
         (1973.57,1.2),(1973.94,1.0),(1974.24,1.3),(1974.5,2.5),(1974.76,2.9),(1975.06,3.4),(1975.24,4.2),
         (1975.5,4.3),(1975.8,4.25),(1976.06,4.2),(1976.25,5.1),(1976.43,4.5),(1976.62,4.0),(1976.84,3.9),
         (1976.99,3.5),(1977.21,2.7),(1977.4,1.1),(1977.66,0.9),(1978.03,0.85),(1978.4,0.6),(1978.77,0.3),
         (1979.33,0.1),(1979.89,0.05),(1980.63,0.05),(1981.19,0.15),(1981.75,0.35),(1982.3,0.5),(1982.86,0.8),
         (1983.23,1.1),(1983.61,1.2),(1983.98,1.3),(1984.35,1.8),(1984.72,1.8),(1985.09,2.1),(1985.28,2.9),
         (1985.46,3.1),(1985.84,3.1),(1986.21,3.2),(1986.39,2.9),(1986.58,2.3),(1986.95,2.1),(1987.25,1.8),
         (1987.51,1.1),(1987.88,0.85),(1988.25,0.4),(1988.81,0.15),(1989.37,0.15),(1989.93,0.2),(1990.48,0.1),
         (1991.04,0.1),(1991.6,0.15),(1992.16,0.3),(1992.71,0.15),(1993.27,0.5),(1993.64,0.65),(1994.01,0.5),
         (1994.39,0.2),(1994.94,0.15),(1995.32,0.4),(1995.69,0.7),(1996.06,1.7),(1996.32,3.4),(1996.54,0.7),
         (1996.8,2.5),(1997.06,2.5),(1997.28,4.6),(1997.43,3.1),(1997.73,3.1),(1998.03,3.1),(1998.18,4.25),
         (1998.36,3.4),(1998.55,1.7),(1998.85,1.7),(1999.15,1.3),(1999.41,0.3),(1999.78,0.5),(2000.15,0.4),
         (2000.52,0.3),(2000.89,0.15),(2001.26,0.1),(2001.64,0.15),(2002.01,0.3),(2002.38,0.5),(2002.75,0.6),
         (2003.12,0.9),(2003.49,0.7),(2003.87,0.7),(2004.24,1.3),(2004.61,1.75),(2004.98,2.0),(2005.09,2.7),
         (2005.35,1.0),(2005.72,1.0),(2006.1,1.0),(2006.28,1.4),(2006.47,2.2),(2006.73,2.2),(2006.95,2.2)]

YEAR_RANGE = [1907.0, 2007.1]

# ---------------------------------------------------------------------------
# Page geometry (pixels)
# ---------------------------------------------------------------------------
W, H = 1073, 761
ML, MR, MT, MB = 106, 70, 8, 47
PW, PH = W - ML - MR, H - MT - MB


def fx(px):
    return (px - ML) / PW


def fy(py):
    return (H - MB - py) / PH


RED = "rgb(248,20,76)"
BLUE = "rgb(0,0,255)"
FONT = "DejaVu Sans"
TICKFONT = dict(family=FONT, size=16, color="black")

# panel pixel extents: (top, bottom)
P1, P2, P3 = (8, 233), (265, 489), (522, 714)

fig = go.Figure()


def add_pair(north, south, scale, xa, ya):
    for series, col in ((north, RED), (south, BLUE)):
        xs = [p[0] for p in series]
        ys = [p[1] * scale for p in series]
        fig.add_trace(go.Scatter(
            x=xs, y=ys, xaxis=xa, yaxis=ya, mode="lines+markers",
            line=dict(color=col, width=1),
            marker=dict(color=col, size=5),
            showlegend=False, hoverinfo="skip"))


def add_ssn(xa, ya):
    fig.add_trace(go.Scatter(
        x=[p[0] for p in SSN], y=[p[1] for p in SSN], xaxis=xa, yaxis=ya,
        mode="lines", line=dict(color="black", width=2),
        showlegend=False, hoverinfo="skip"))


# panel 1 (top): 50-60 deg
add_pair(N5060, S5060, 1e-4, "x3", "y5")
add_ssn("x3", "y6")
# panel 2 (middle): 60-70 deg
add_pair(N6070, S6070, 1e-3, "x2", "y3")
add_ssn("x2", "y4")
# panel 3 (bottom): 70-80 deg
add_pair(N7080, S7080, 1e-3, "x", "y")
add_ssn("x", "y2")


def xaxis(anchor, labels):
    return dict(
        domain=[0, 1], anchor=anchor, range=YEAR_RANGE, automargin=False,
        tick0=1900, dtick=20, ticks="inside", ticklen=7, tickwidth=1, tickcolor="black",
        minor=dict(tick0=1900, dtick=5, ticks="inside", ticklen=6, tickwidth=1, tickcolor="black"),
        showline=True, linecolor="black", linewidth=1.2, mirror="ticks",
        showgrid=False, zeroline=False, showticklabels=labels,
        tickfont=TICKFONT, ticklabelstandoff=4, ticklabeloverflow="allow")


def yleft(panel, top, major, minor, fmt, anchor):
    return dict(
        domain=[fy(panel[1]), fy(panel[0])], anchor=anchor, range=[0, top], automargin=False,
        tick0=0, dtick=major, tickformat=fmt,
        ticks="inside", ticklen=17, tickwidth=1, tickcolor="black",
        minor=dict(tick0=0, dtick=minor, ticks="inside", ticklen=9, tickwidth=1, tickcolor="black"),
        showline=True, linecolor="black", linewidth=1.2, mirror=False,
        showgrid=False, zeroline=False, tickfont=TICKFONT, ticklabelstandoff=4,
        ticklabeloverflow="allow")


def yright(over, anchor):
    return dict(
        overlaying=over, anchor=anchor, side="right", range=[0, 400], automargin=False,
        tick0=0, dtick=100,
        ticks="inside", ticklen=17, tickwidth=1, tickcolor="black",
        minor=dict(tick0=0, dtick=20, ticks="inside", ticklen=9, tickwidth=1, tickcolor="black"),
        showline=True, linecolor="black", linewidth=1.2,
        showgrid=False, zeroline=False, tickfont=TICKFONT, ticklabelstandoff=2,
        ticklabeloverflow="allow")


fig.update_layout(
    width=W, height=H,
    margin=dict(l=ML, r=MR, t=MT, b=MB, pad=0, autoexpand=False),
    paper_bgcolor="white", plot_bgcolor="white",
    font=dict(family=FONT, color="black"),
    xaxis=xaxis("y", True),
    xaxis2=xaxis("y3", False),
    xaxis3=xaxis("y5", False),
    yaxis=yleft(P3, 0.008, 0.002, 0.0005, ".3f", "x"),
    yaxis2=yright("y", "x"),
    yaxis3=yleft(P2, 0.010, 0.002, 0.0005, ".3f", "x2"),
    yaxis4=yright("y3", "x2"),
    yaxis5=yleft(P1, 0.0020, 0.0005, 0.0001, ".4f", "x3"),
    yaxis6=yright("y5", "x3"),
)

LEG = dict(family=FONT, size=18.5)
labels = [
    ("50\u201360 N 13\u2013Month running mean", RED, 23),
    ("50\u201360 S", BLUE, 45),
    ("60\u201370 N", RED, 279),
    ("60\u201370 S", BLUE, 302),
    ("70\u201380 N", RED, 536),
    ("70\u201380 S", BLUE, 561),
]
for text, col, py in labels:
    fig.add_annotation(text=text, xref="paper", yref="paper", x=fx(134), y=fy(py),
                       xanchor="left", yanchor="middle", showarrow=False,
                       font=dict(LEG, color=col))

TITLE = dict(family=FONT, size=20, color="black")
fig.add_annotation(text="Fractional EN area", xref="paper", yref="paper",
                   x=fx(18), y=fy(428), textangle=-90, showarrow=False,
                   xanchor="center", yanchor="middle", font=TITLE)
fig.add_annotation(text="Sunspot number", xref="paper", yref="paper",
                   x=fx(1060), y=fy(343), textangle=-90, showarrow=False,
                   xanchor="center", yanchor="middle", font=TITLE)
fig.add_annotation(text="Year", xref="paper", yref="paper",
                   x=fx(540), y=fy(748), showarrow=False,
                   xanchor="center", yanchor="middle", font=TITLE)

fig.write_html("out.html")
